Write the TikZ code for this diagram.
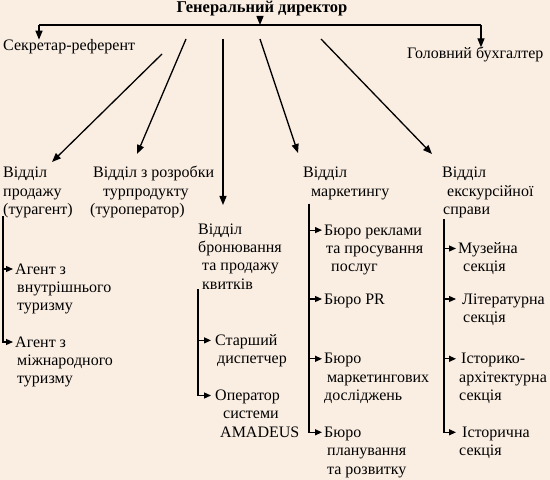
\documentclass[tikz,border=0pt]{standalone}
\usepackage{fontspec}
\setmainfont{Liberation Serif}
\usepackage{tikz}
\usetikzlibrary{arrows.meta,positioning,calc}
\definecolor{cPaper}{RGB}{250,238,226}
\tikzset{
  txt/.style={inner sep=0pt, anchor=base west,
              font=\fontsize{16bp}{18.375bp}\selectfont},
  chief/.style={txt, anchor=base, font=\bfseries\fontsize{16.5bp}{18.375bp}\selectfont},
  arr/.style={-{Triangle[length=9bp,width=7bp]}, line width=1.3bp},
  sub/.style={-{Triangle[length=7bp,width=6bp]}, line width=1.2bp},
  bus/.style={line width=1.6bp},
}
\newcommand{\lines}[1]{\begin{tabular}[t]{@{}l@{}}#1\end{tabular}}

\begin{document}
\begin{tikzpicture}[x=1bp,y=-1bp]
  \fill[cPaper] (0,0) rectangle (550,480);
  \useasboundingbox (0,0) rectangle (550,480);

  % top level
  \node[chief] (gd) at (262,13) {Генеральний директор};
  \node[txt] (sec) at (3,51) {Секретар-референт};
  \node[txt] (acc) at (407,59) {Головний бухгалтер};
  \coordinate (busL) at (39,25);
  \coordinate (busR) at (481,25);
  \coordinate (gdin) at (260,25);
  \draw[bus] (busL) -- (busR);
  \draw[arr] (gdin |- gd.south) -- (gdin);
  \draw[arr] (busL) -- (busL |- sec.north);
  \draw[arr] (busR) -- (busR |- acc.north);

  % departments
  \node[txt] (d1) at (3,178) {\lines{Відділ\\продажу\\(турагент)}};
  \node[txt] (d2) at (90,178) {\lines{\hspace*{3bp}Відділ з розробки\\\hspace*{13bp}турпродукту\\(туроператор)}};
  \node[txt] (d3) at (198,234) {\lines{Відділ\\бронювання\\\hspace*{4bp}та продажу\\\hspace*{4bp}квитків}};
  \node[txt] (d4) at (303,178) {\lines{Відділ\\\hspace*{8bp}маркетингу}};
  \node[txt] (d5) at (442,178) {\lines{Відділ\\\hspace*{5bp}екскурсійної\\\hspace*{1bp}справи}};

  \coordinate (s1) at (162,54);  \coordinate (e1) at (52,162);
  \coordinate (s2) at (186,39);  \coordinate (e2) at (137,154);
  \coordinate (s3) at (223,39);  \coordinate (e3) at (223,205);
  \coordinate (s4) at (260,39);  \coordinate (e4) at (298,153);
  \coordinate (s5) at (321,39);  \coordinate (e5) at (432,154);
  \foreach \i in {1,...,5}
    \draw[arr] (s\i) -- (e\i);

  % sales
  \coordinate (b1) at (3,216);
  \node[txt] (i11) at (15,274) {\lines{Агент з\\\hspace*{2bp}внутрішнього\\\hspace*{2bp}туризму}};
  \node[txt] (i12) at (15,347) {\lines{Агент з\\\hspace*{2bp}міжнародного\\\hspace*{2bp}туризму}};
  \draw[sub] (b1) |- ($(i11.base west)+(-2,-5)$);
  \draw[sub] (b1) |- ($(i12.base west)+(-2,-5)$);

  % booking
  \coordinate (b3) at (198,289);
  \node[txt] (i31) at (213,345.4) {\lines{\hspace*{2bp}Старший\\\hspace*{4bp}диспетчер}};
  \node[txt] (i32) at (213,400.5) {\lines{\hspace*{2bp}Оператор\\\hspace*{10bp}системи\\\hspace*{7bp}AMADEUS}};
  \draw[sub] (b3) |- ($(i31.base west)+(-2,-5)$);
  \draw[sub] (b3) |- ($(i32.base west)+(-2,-5)$);

  % marketing
  \coordinate (b4) at (309,204);
  \node[txt] (i41) at (324,235.1) {\lines{Бюро реклами\\\hspace*{2bp}та просування\\\hspace*{7bp}послуг}};
  \node[txt] (i42) at (324,304) {Бюро PR};
  \node[txt] (i43) at (324,363.8) {\lines{Бюро\\\hspace*{3bp}маркетингових\\досліджень}};
  \node[txt] (i44) at (324,437.3) {\lines{Бюро\\\hspace*{3bp}планування\\\hspace*{3bp}та розвитку}};
  \foreach \n in {i41,i42,i43,i44}
    \draw[sub] (b4) |- ($(\n.base west)+(-2,-5)$);

  % excursions
  \coordinate (b5) at (444,219);
  \node[txt] (i51) at (458,253.5) {\lines{Музейна\\\hspace*{5bp}секція}};
  \node[txt] (i52) at (458,304) {\lines{\hspace*{4bp}Літературна\\\hspace*{5bp}секція}};
  \node[txt] (i53) at (458,363.8) {\lines{\hspace*{3bp}Історико-\\\hspace*{1bp}архітектурна\\\hspace*{1bp}секція}};
  \node[txt] (i54) at (458,437.3) {\lines{\hspace*{4bp}Історична\\\hspace*{1bp}секція}};
  \foreach \n in {i51,i52,i53,i54}
    \draw[sub] (b5) |- ($(\n.base west)+(-2,-5)$);
\end{tikzpicture}
\end{document}
